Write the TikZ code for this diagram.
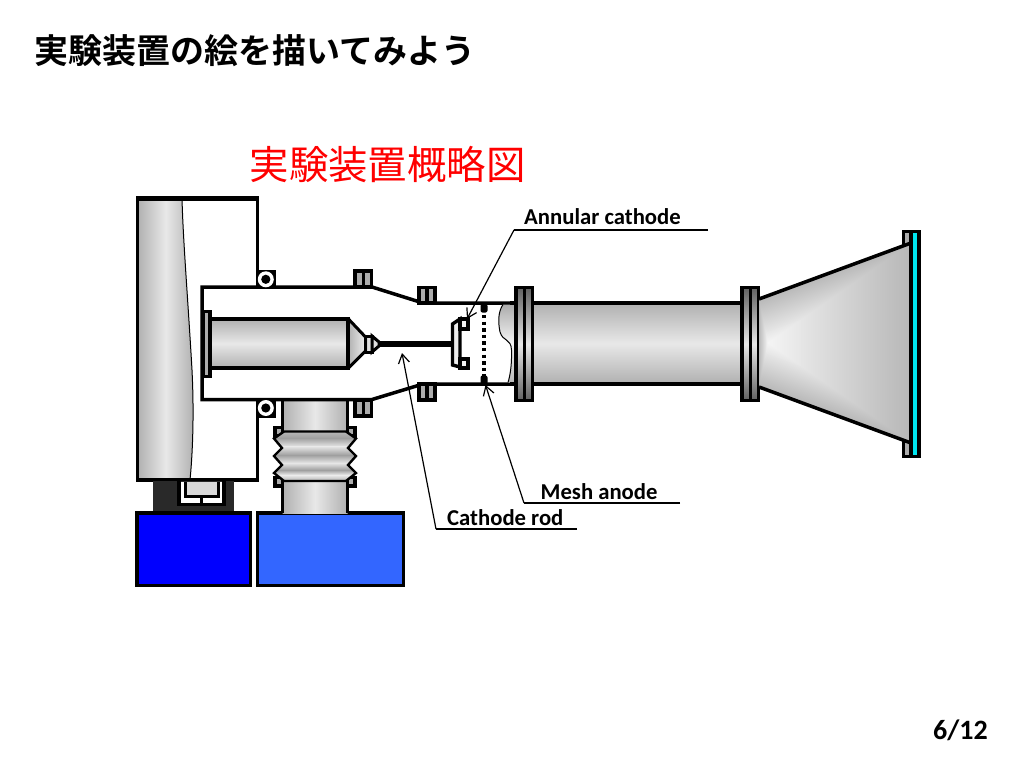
\documentclass[tikz,border=0pt]{standalone}
\usepackage{fontspec}
\usetikzlibrary{arrows.meta}
\newfontfamily\jpbold{Noto Sans CJK JP Bold}
\newfontfamily\jpreg{Noto Sans CJK JP}
\setmainfont{Carlito}
\definecolor{gE}{gray}{0.91}
\definecolor{gM}{gray}{0.69}
\definecolor{gD}{gray}{0.38}
\definecolor{flgray}{gray}{0.68}
\definecolor{winCyan}{RGB}{0,230,240}
\definecolor{blueA}{RGB}{0,0,255}
\definecolor{blueB}{RGB}{51,102,255}
\tikzset{
  outline/.style={draw=black,line width=3.5pt,line join=miter},
  thickline/.style={draw=black,line width=4.5pt},
  vgrad/.style={top color=gM,bottom color=gM,middle color=gE},
  hgrad/.style={left color=gM,right color=gM,middle color=gE},
  flangeSmall/.style={draw=black,line width=3.2pt,fill=flgray},
  flangeBig/.style={draw=black,line width=3.5pt,top color=gD,bottom color=gD,middle color=gE},
  lbl/.style={font=\bfseries\fontsize{22.7}{26}\selectfont,inner sep=0pt,text=black},
  leader/.style={draw=black,line width=1.2pt},
  pointer/.style={draw=black,line width=1.2pt,-{Straight Barb[length=9pt,width=11pt,line width=1.2pt]}},
}
\begin{document}
\begin{tikzpicture}[x=1pt,y=-1pt]
\useasboundingbox (0,0) rectangle (1024,768);
\fill[white] (0,0) rectangle (1024,768);

% titles
\node[inner sep=0pt,anchor=west,font=\jpbold\fontsize{34}{38}\selectfont] (title) at (34.5,51) {実験装置の絵を描いてみよう};
\node[inner sep=0pt,anchor=west,text=red,font=\jpreg\fontsize{39.4}{44}\selectfont] (subtitle) at (249.5,164.5) {実験装置概略図};
\node[inner sep=0pt,anchor=east,font=\bfseries\fontsize{28}{31}\selectfont] (page) at (988,730) {6/12};

% column
\shade[hgrad] (137.5,198) -- (182,198) .. controls (183,240) and (188,300) .. (192,370) .. controls (194,410) and (193,450) .. (190,480) -- (137.5,480) -- cycle;
\draw[black,line width=1pt] (182,198) .. controls (183,240) and (188,300) .. (192,370) .. controls (194,410) and (193,450) .. (190,480);
\draw[black,line width=3pt] (137.5,198) -- (137.5,480);
\draw[thickline] (136,198.5) -- (259,198.5);
\draw[black,line width=3pt] (257.5,198) -- (257.5,288);
\draw[black,line width=3pt] (257.5,400) -- (257.5,480.5);
\draw[black,line width=3.5pt] (136,480) -- (259,480);

% support under the column
\fill[black!84] (152.7,481) rectangle (234,513);
\fill[white] (178,481.5) rectangle (224.5,503.5);
\draw[black,line width=3.4pt] (179,481) -- (179,504.5) -- (224,504.5) -- (224,481);
\draw[black,line width=3pt,fill=gray!30] (185.5,481.5) -- (185.5,496) -- (218,496) -- (218,481.5);
\fill[gray!30] (187,481.7) rectangle (216.5,494.5);
\draw[black,line width=3pt] (201,496) -- (201,504);

% blue boxes
\draw[black,line width=3.5pt,fill=blueA] (137,513) rectangle (250.5,585.5);
\draw[black,line width=3.5pt,fill=blueB] (257.5,513) rectangle (403.5,585.5);

% vertical pipe
\shade[hgrad] (282.5,400) rectangle (347.5,513);
\draw[black,line width=3.5pt] (282.5,400) -- (282.5,513);
\draw[black,line width=3.5pt] (347.5,400) -- (347.5,513);

% bellows ears
\draw[flangeSmall] (275,427.5) rectangle (282.5,436);
\draw[flangeSmall] (347.5,427.5) rectangle (355,436);
\draw[flangeSmall] (275,477.5) rectangle (282.5,486);
\draw[flangeSmall] (347.5,477.5) rectangle (355,486);

% bellows
\begin{scope}
\clip (284,431.5) -- (274,438.5) -- (282,448) -- (274,456) -- (282,465) -- (274,473) -- (284,481)
   -- (346,481) -- (356,473) -- (348,465) -- (356,456) -- (348,448) -- (356,438.5) -- (346,431.5) -- cycle;
\shade[top color=gray!55,bottom color=gray!75] (270,431) rectangle (360,438);
\shade[top color=gray!75,bottom color=gray!20] (270,438) rectangle (360,446.5);
\shade[top color=gray!20,bottom color=gray!75] (270,446.5) rectangle (360,455);
\shade[top color=gray!75,bottom color=gray!20] (270,455) rectangle (360,463);
\shade[top color=gray!20,bottom color=gray!75] (270,463) rectangle (360,470);
\shade[top color=gray!75,bottom color=gray!15] (270,470) rectangle (360,475);
\shade[top color=gray!15,bottom color=gray!70] (270,475) rectangle (360,482);
\end{scope}
\draw[black,line width=2.4pt,line join=miter] (284,431.5) -- (274,438.5) -- (282,448) -- (274,456) -- (282,465) -- (274,473) -- (284,481) -- (346,481) -- (356,473) -- (348,465) -- (356,456) -- (348,448) -- (356,438.5) -- (346,431.5) -- cycle;

% tube interior and outline
\fill[white] (202,287) -- (372,287) -- (423,303) -- (505,303) -- (505,384) -- (423,384) -- (372,399.5) -- (202,399.5) -- cycle;
\draw[outline] (510,303) -- (423,303) -- (372,287) -- (202,287) -- (202,399.5) -- (372,399.5) -- (423,384) -- (510,384);

% O rings
\fill[black] (257,269.5) rectangle (275.5,288);
\fill[white] (265.8,279.3) circle (8);
\fill[black] (265.8,279.3) circle (4.6);
\fill[black] (257,399) rectangle (275.5,417.5);
\fill[white] (265.8,408) circle (8);
\fill[black] (265.8,408) circle (4.6);

% small flanges
\draw[flangeSmall] (355,271) rectangle (363.2,287);
\draw[flangeSmall] (363.2,271) rectangle (371.3,287);
\draw[flangeSmall] (355,400) rectangle (363.2,416);
\draw[flangeSmall] (363.2,400) rectangle (371.3,416);
\draw[flangeSmall] (419,287.5) rectangle (427,303);
\draw[flangeSmall] (427,287.5) rectangle (435,303);
\draw[flangeSmall] (419,384) rectangle (427,400);
\draw[flangeSmall] (427,384) rectangle (435,400);

% inner cylinder
\shade[vgrad] (210,319) rectangle (348,368);
\draw[black,line width=4.5pt] (210,319) -- (348,319);
\draw[black,line width=4.5pt] (210,368) -- (348,368);
\draw[black,line width=3.4pt,fill=flgray] (203,311.5) rectangle (210,376.5);
\shade[left color=gM,right color=gray!15] (348,319) -- (365,336.5) -- (365,351.5) -- (348,368) -- cycle;
\draw[black,line width=4pt] (348,317) -- (348,370);
\draw[black,line width=3pt] (348,318.5) -- (365,336.5);
\draw[black,line width=3pt] (348,368.5) -- (365,351.5);
\draw[black,line width=3pt,hgrad] (365,336) rectangle (372,352);
\draw[black,line width=3pt,fill=gray!25] (372,336) -- (379,342) -- (379,346) -- (372,352) -- cycle;
\draw[black,line width=6pt] (379,343.5) -- (452,343.5);

% annular cathode
\draw[black,line width=3.4pt,fill=gray!15] (452.5,324) -- (460,319) -- (460,367) -- (452.5,365) -- cycle;
\draw[black,line width=3.4pt,fill=gray!10] (460,319) rectangle (468,329);
\draw[black,line width=3.4pt,fill=gray!10] (460,359) rectangle (468,368);

% pipe stub with wavy cut
\shade[top color=gray!65,bottom color=gray!55,middle color=gray!8] (503,304.5) .. controls (498,312) and (498,322) .. (500,332) .. controls (503,342) and (511,338) .. (511.5,350) .. controls (512,365) and (510,376) .. (508,382.5) -- (516,382.5) -- (516,304.5) -- cycle;
\draw[black,line width=1pt] (503,304.5) .. controls (498,312) and (498,322) .. (500,332) .. controls (503,342) and (511,338) .. (511.5,350) .. controls (512,365) and (510,376) .. (508,382.5);

% mesh anode
\draw[black,line width=4pt,dash pattern=on 3.4pt off 3.2pt] (484,315) -- (484,376);
\fill[black,rounded corners=2pt] (480.5,304) rectangle (487.5,312.5);
\fill[black,rounded corners=2pt] (480.5,375.5) rectangle (487.5,384.5);

% main pipe
\shade[vgrad] (532,303) rectangle (741,384);
\draw[black,line width=3.5pt] (510,303) -- (741,303);
\draw[black,line width=3.5pt] (510,384) -- (741,384);

% large flanges
\draw[flangeBig] (516,287.5) rectangle (524.3,400.5);
\draw[flangeBig] (524.3,287.5) rectangle (532.5,400.5);
\draw[flangeBig] (742,287.5) rectangle (750.3,400.5);
\draw[flangeBig] (750.3,287.5) rectangle (758.5,400.5);

% window parts
\draw[black,line width=3pt,fill=flgray] (903.5,231) rectangle (911,246);
\draw[black,line width=3pt,fill=flgray] (903.5,441) rectangle (911,456);

% horn: nested outlines give the gradient
\foreach \i in {0,...,59}{
  \pgfmathsetmacro{\t}{1-\i/60}
  \pgfmathsetmacro{\g}{72+(\i/60)*24}
  \definecolor{hornc}{gray}{\fpeval{\g/100}}
  \fill[hornc]
    ({768+(759-768)*\t},{343+(299-343)*\t}) --
    ({768+(911-768)*\t},{343+(243-343)*\t}) --
    ({768+(911-768)*\t},{343+(443-343)*\t}) --
    ({768+(759-768)*\t},{343+(387-343)*\t}) -- cycle;
}
\draw[black,line width=3.5pt] (759,299) -- (911,243);
\draw[black,line width=3.5pt] (759,387) -- (911,443);

% window
\draw[black,line width=3.5pt,fill=winCyan] (911,231.5) rectangle (919,456.5);

% labels and leaders
\node[lbl,anchor=west] (annular) at (524,217) {Annular cathode};
\node[lbl,anchor=west] (mesh) at (540.5,492) {Mesh anode};
\node[lbl,anchor=west] (rod) at (447,518) {Cathode rod};
\coordinate (annA) at (708,230);
\coordinate (annB) at (514,230);
\coordinate (annT) at (467,319);
\coordinate (meshA) at (680,503);
\coordinate (meshB) at (524,503);
\coordinate (meshT) at (485.5,385);
\coordinate (rodA) at (577,529);
\coordinate (rodB) at (436,529);
\coordinate (rodT) at (402,353);
\draw[leader] (annA) -- (annB);
\draw[pointer] (annB) -- (annT);
\draw[leader] (meshA) -- (meshB);
\draw[pointer] (meshB) -- (meshT);
\draw[leader] (rodA) -- (rodB);
\draw[pointer] (rodB) -- (rodT);
\end{tikzpicture}
\end{document}
